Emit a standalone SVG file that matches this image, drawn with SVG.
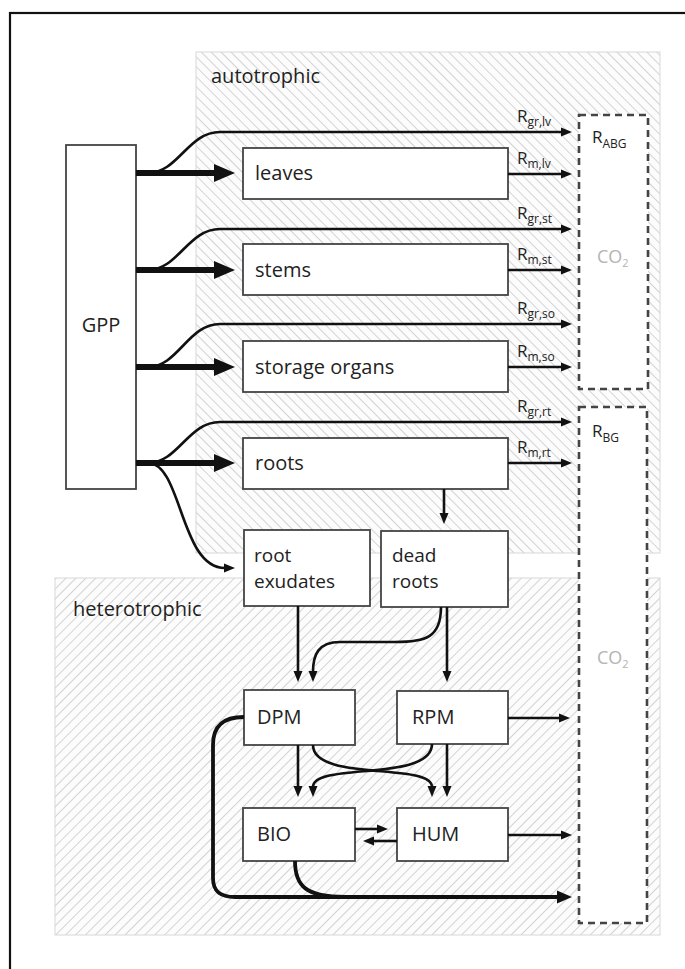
<svg xmlns="http://www.w3.org/2000/svg" width="685" height="969" viewBox="0 0 685 969">
<defs>
<pattern id="hatchA" width="7" height="7" patternUnits="userSpaceOnUse" patternTransform="rotate(-45)">
<rect width="7" height="7" fill="#fcfcfc"/>
<line x1="0" y1="0" x2="0" y2="7" stroke="#c6c6c6" stroke-width="1.5"/>
</pattern>
<pattern id="hatchH" width="7" height="7" patternUnits="userSpaceOnUse" patternTransform="rotate(45)">
<rect width="7" height="7" fill="#fcfcfc"/>
<line x1="0" y1="0" x2="0" y2="7" stroke="#c6c6c6" stroke-width="1.5"/>
</pattern>
<marker id="ah" markerUnits="userSpaceOnUse" markerWidth="11" markerHeight="10" refX="1" refY="5" orient="auto"><path d="M0,0.5 L11,5 L0,9.5 z" fill="#111"/></marker>
<marker id="bh" markerUnits="userSpaceOnUse" markerWidth="21" markerHeight="18" refX="1" refY="9" orient="auto"><path d="M0,0 L21,9 L0,18 z" fill="#111"/></marker>
<marker id="mh" markerUnits="userSpaceOnUse" markerWidth="15" markerHeight="14" refX="1" refY="7" orient="auto"><path d="M0,0.5 L15,7 L0,13.5 z" fill="#111"/></marker>
</defs>
<style>
.region{stroke:#d8d8d8;stroke-width:1}
.box{fill:#fff;stroke:#444;stroke-width:1.8}
.dash{fill:#fff;stroke:#444;stroke-width:2.6;stroke-dasharray:7 5}
.lbl{font-family:"Open Sans","Noto Sans","Liberation Sans",sans-serif;font-size:20px;fill:#222}
.two{font-size:19px}
.r{font-family:"Open Sans","Noto Sans","Liberation Sans",sans-serif;font-size:17px;fill:#222}
.sub{font-size:12px}
.co2{font-family:"Open Sans","Noto Sans","Liberation Sans",sans-serif;font-size:18px;fill:#b4b4b4}
.thin{fill:none;stroke:#111;stroke-width:2.6;marker-end:url(#ah)}
.thick{fill:none;stroke:#111;stroke-width:6;marker-end:url(#bh)}
.main{fill:none;stroke:#111;stroke-width:3.8;marker-end:url(#mh)}
.plain{fill:none;stroke:#111;stroke-width:3.8}
</style>
<rect x="0" y="0" width="685" height="969" fill="#fff"/>
<rect x="10" y="13" width="700" height="990" fill="none" stroke="#111" stroke-width="2.2"/>

<g id="region-autotrophic">
<rect class="region" x="196" y="52" width="464" height="501" fill="url(#hatchA)"/>
<text class="lbl" x="211" y="83">autotrophic</text>
</g>
<g id="region-heterotrophic">
<rect class="region" x="55" y="578" width="605" height="357" fill="url(#hatchH)"/>
<text class="lbl" x="73" y="616">heterotrophic</text>
</g>

<g id="co2-abg">
<rect class="dash" x="579" y="115" width="69" height="274"/>
<text class="r" x="592" y="143">R<tspan class="sub" dy="5">ABG</tspan></text>
<text class="co2" x="597" y="263">CO<tspan font-size="11" dy="4">2</tspan></text>
</g>
<g id="co2-bg">
<rect class="dash" x="579" y="407" width="68" height="516"/>
<text class="r" x="592" y="437">R<tspan class="sub" dy="5">BG</tspan></text>
<text class="co2" x="597" y="664">CO<tspan font-size="11" dy="4">2</tspan></text>
</g>

<g id="gpp">
<rect class="box" x="66" y="145" width="70" height="344"/>
<text class="lbl" x="101" y="332" text-anchor="middle">GPP</text>
</g>
<g id="leaves">
<rect class="box" x="243" y="148" width="265" height="51"/>
<text class="lbl" x="255" y="180">leaves</text>
</g>
<g id="stems">
<rect class="box" x="243" y="244" width="265" height="51"/>
<text class="lbl" x="255" y="277">stems</text>
</g>
<g id="storage-organs">
<rect class="box" x="243" y="341" width="265" height="51"/>
<text class="lbl" x="255" y="374">storage organs</text>
</g>
<g id="roots">
<rect class="box" x="243" y="438" width="265" height="51"/>
<text class="lbl" x="255" y="470">roots</text>
</g>
<g id="root-exudates">
<rect class="box" x="244" y="530" width="126" height="76"/>
<text class="lbl two" x="254" y="562">root</text>
<text class="lbl two" x="254" y="588">exudates</text>
</g>
<g id="dead-roots">
<rect class="box" x="381" y="531" width="127" height="76"/>
<text class="lbl two" x="392" y="562">dead</text>
<text class="lbl two" x="392" y="588">roots</text>
</g>
<g id="dpm">
<rect class="box" x="244" y="690" width="111" height="55"/>
<text class="lbl" x="257" y="724">DPM</text>
</g>
<g id="rpm">
<rect class="box" x="397" y="691" width="111" height="53"/>
<text class="lbl" x="412" y="724">RPM</text>
</g>
<g id="bio">
<rect class="box" x="243" y="808" width="112" height="53"/>
<text class="lbl" x="257" y="841">BIO</text>
</g>
<g id="hum">
<rect class="box" x="397" y="808" width="111" height="53"/>
<text class="lbl" x="412" y="841">HUM</text>
</g>

<g id="connectors">
<path class="thick" d="M136,173 H215"/>
<path class="thick" d="M136,270 H215"/>
<path class="thick" d="M136,367 H215"/>
<path class="thick" d="M136,463 H215"/>
<path class="thin" d="M148,173 C178,173 188,132 220,132 H562"/>
<path class="thin" d="M148,270 C178,270 188,229 220,229 H562"/>
<path class="thin" d="M148,367 C178,367 188,324 220,324 H562"/>
<path class="thin" d="M148,463 C178,463 188,422 220,422 H562"/>
<path class="thin" d="M508,174 H562"/>
<path class="thin" d="M508,270 H562"/>
<path class="thin" d="M508,367 H562"/>
<path class="thin" d="M508,463 H562"/>
<path class="thin" d="M148,463 C182,463 180,568 225,568"/>
<path class="thin" d="M444,489 V514"/>
<path class="thin" d="M298,606 V672"/>
<path class="thin" d="M441,607 C441,638 425,642 395,642 L340,642 C318,642 313,655 313,672"/>
<path class="thin" d="M447,607 V672"/>
<path class="thin" d="M298,745 V787"/>
<path class="thin" d="M313,745 C313,782 432,762 432,787"/>
<path class="thin" d="M432,744 C432,782 313,762 313,787"/>
<path class="thin" d="M447,744 V787"/>
<path class="thin" d="M508,718 H560"/>
<path class="thin" d="M355,829 H378"/>
<path class="thin" d="M397,841 H373"/>
<path class="thin" d="M508,835 H562"/>
<path class="main" d="M244,717 C222,717 213,727 213,745 V878 C213,891 220,897 235,897 H558"/>
<path class="plain" d="M295,861 C295,886 306,897 345,897"/>
</g>

<g id="r-labels">
<text class="r" x="517" y="122">R<tspan class="sub" dy="4">gr,lv</tspan></text>
<text class="r" x="517" y="164">R<tspan class="sub" dy="4">m,lv</tspan></text>
<text class="r" x="517" y="219">R<tspan class="sub" dy="4">gr,st</tspan></text>
<text class="r" x="517" y="260">R<tspan class="sub" dy="4">m,st</tspan></text>
<text class="r" x="517" y="314">R<tspan class="sub" dy="4">gr,so</tspan></text>
<text class="r" x="517" y="357">R<tspan class="sub" dy="4">m,so</tspan></text>
<text class="r" x="517" y="412">R<tspan class="sub" dy="4">gr,rt</tspan></text>
<text class="r" x="517" y="453">R<tspan class="sub" dy="4">m,rt</tspan></text>
</g>
</svg>
